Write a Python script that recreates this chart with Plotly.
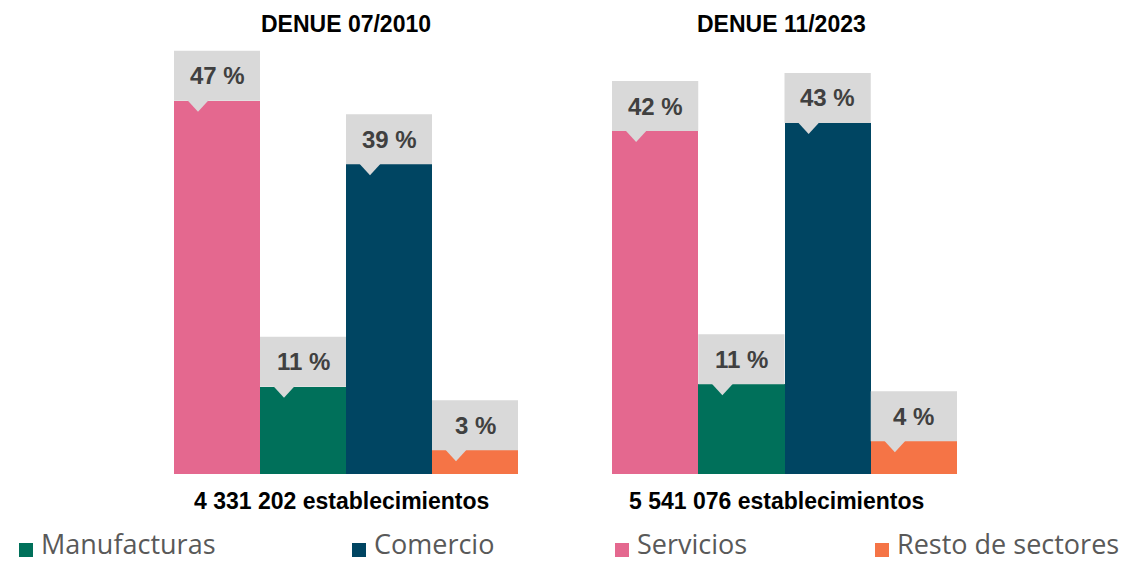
import plotly.graph_objects as go

# ---------------- data ----------------
categories = ["Servicios", "Manufacturas", "Comercio", "Resto de sectores"]
values_2010 = [47, 11, 39, 3]
values_2023 = [42, 11, 43, 4]
panel_titles = ["DENUE 07/2010", "DENUE 11/2023"]
panel_totals = ["4 331 202 establecimientos", "5 541 076 establecimientos"]
legend_order = ["Manufacturas", "Comercio", "Servicios", "Resto de sectores"]
colors = {
    "Servicios": "#E4688F",
    "Manufacturas": "#00705A",
    "Comercio": "#004562",
    "Resto de sectores": "#F57446",
}

W, H = 1130, 563
MB = 89  # bottom margin
PH = H - MB  # plot height in px


def px_x(p):
    return p / W


def px_y(p):
    return (PH - p) / PH


BOLD = "Liberation Sans, Arial, sans-serif"
LEG_FONT = "Open Sans, Lato, sans-serif"

fig = go.Figure()

panels = [
    dict(vals=values_2010, xa="x", ya="y", dom=(174, 518), ymax=59.7, cx=346),
    dict(vals=values_2023, xa="x2", ya="y2", dom=(612, 957), ymax=58.05, cx=781),
]

shapes = []
annotations = []
for k, p in enumerate(panels):
    fig.add_trace(go.Bar(
        x=list(range(len(categories))),
        y=p["vals"],
        marker=dict(color=[colors[c] for c in categories], line=dict(width=0)),
        xaxis=p["xa"], yaxis=p["ya"],
        width=1.0,
        showlegend=False,
        hovertext=categories,
        hoverinfo="text+y",
    ))
    for i, v in enumerate(p["vals"]):
        shapes.append(dict(
            type="rect", xref=p["xa"], yref=p["ya"],
            x0=i - 0.5, x1=i + 0.5,
            ysizemode="pixel", yanchor=v, y0=0, y1=50,
            fillcolor="#D9D9D9", line=dict(width=0), layer="above",
        ))
        shapes.append(dict(
            type="path", xref=p["xa"], yref=p["ya"],
            xsizemode="pixel", xanchor=i,
            ysizemode="pixel", yanchor=v,
            path="M -30,1 L -19,-11 L -8,1 Z",
            fillcolor="#D9D9D9", line=dict(width=0), layer="above",
        ))
        annotations.append(dict(
            x=i, y=v, xref=p["xa"], yref=p["ya"],
            text=f"<b>{v} %</b>", showarrow=False,
            yshift=25, yanchor="middle", xanchor="center",
            font=dict(family=BOLD, size=24, color="#404040"),
        ))
    annotations.append(dict(
        x=px_x(p["cx"]), y=px_y(24), xref="paper", yref="paper",
        text=f"<b>{panel_titles[k]}</b>", showarrow=False,
        xanchor="center", yanchor="middle",
        font=dict(family=BOLD, size=23, color="#000000"),
    ))
    annotations.append(dict(
        x=px_x(p["cx"] - 5), y=px_y(501), xref="paper", yref="paper",
        text=f"<b>{panel_totals[k]}</b>", showarrow=False,
        xanchor="center", yanchor="middle",
        font=dict(family=BOLD, size=23, color="#000000"),
    ))

# manual legend
legend_x = [19, 352, 615, 875]
for name, lx in zip(legend_order, legend_x):
    shapes.append(dict(
        type="rect", xref="paper", yref="paper",
        x0=px_x(lx), x1=px_x(lx + 14), y0=px_y(557), y1=px_y(543),
        fillcolor=colors[name], line=dict(width=0),
    ))
    annotations.append(dict(
        x=px_x(lx + 20), y=px_y(543), xref="paper", yref="paper",
        text=name, showarrow=False, xanchor="left", yanchor="middle",
        font=dict(family=LEG_FONT, size=27, color="#595959"),
    ))

axis_common = dict(showgrid=False, zeroline=False, showticklabels=False,
                   showline=False, ticks="", fixedrange=True)
fig.update_layout(
    width=W, height=H,
    margin=dict(l=0, r=0, t=0, b=MB, pad=0),
    paper_bgcolor="white", plot_bgcolor="white",
    bargap=0,
    showlegend=False,
    xaxis=dict(domain=[px_x(174), px_x(518)], range=[-0.5, 3.5], **axis_common),
    xaxis2=dict(domain=[px_x(612), px_x(957)], range=[-0.5, 3.5], anchor="y2", **axis_common),
    yaxis=dict(domain=[0, 1], range=[0, panels[0]["ymax"]], anchor="x", **axis_common),
    yaxis2=dict(domain=[0, 1], range=[0, panels[1]["ymax"]], anchor="x2", **axis_common),
    shapes=shapes,
    annotations=annotations,
)

fig.write_html("out.html")
